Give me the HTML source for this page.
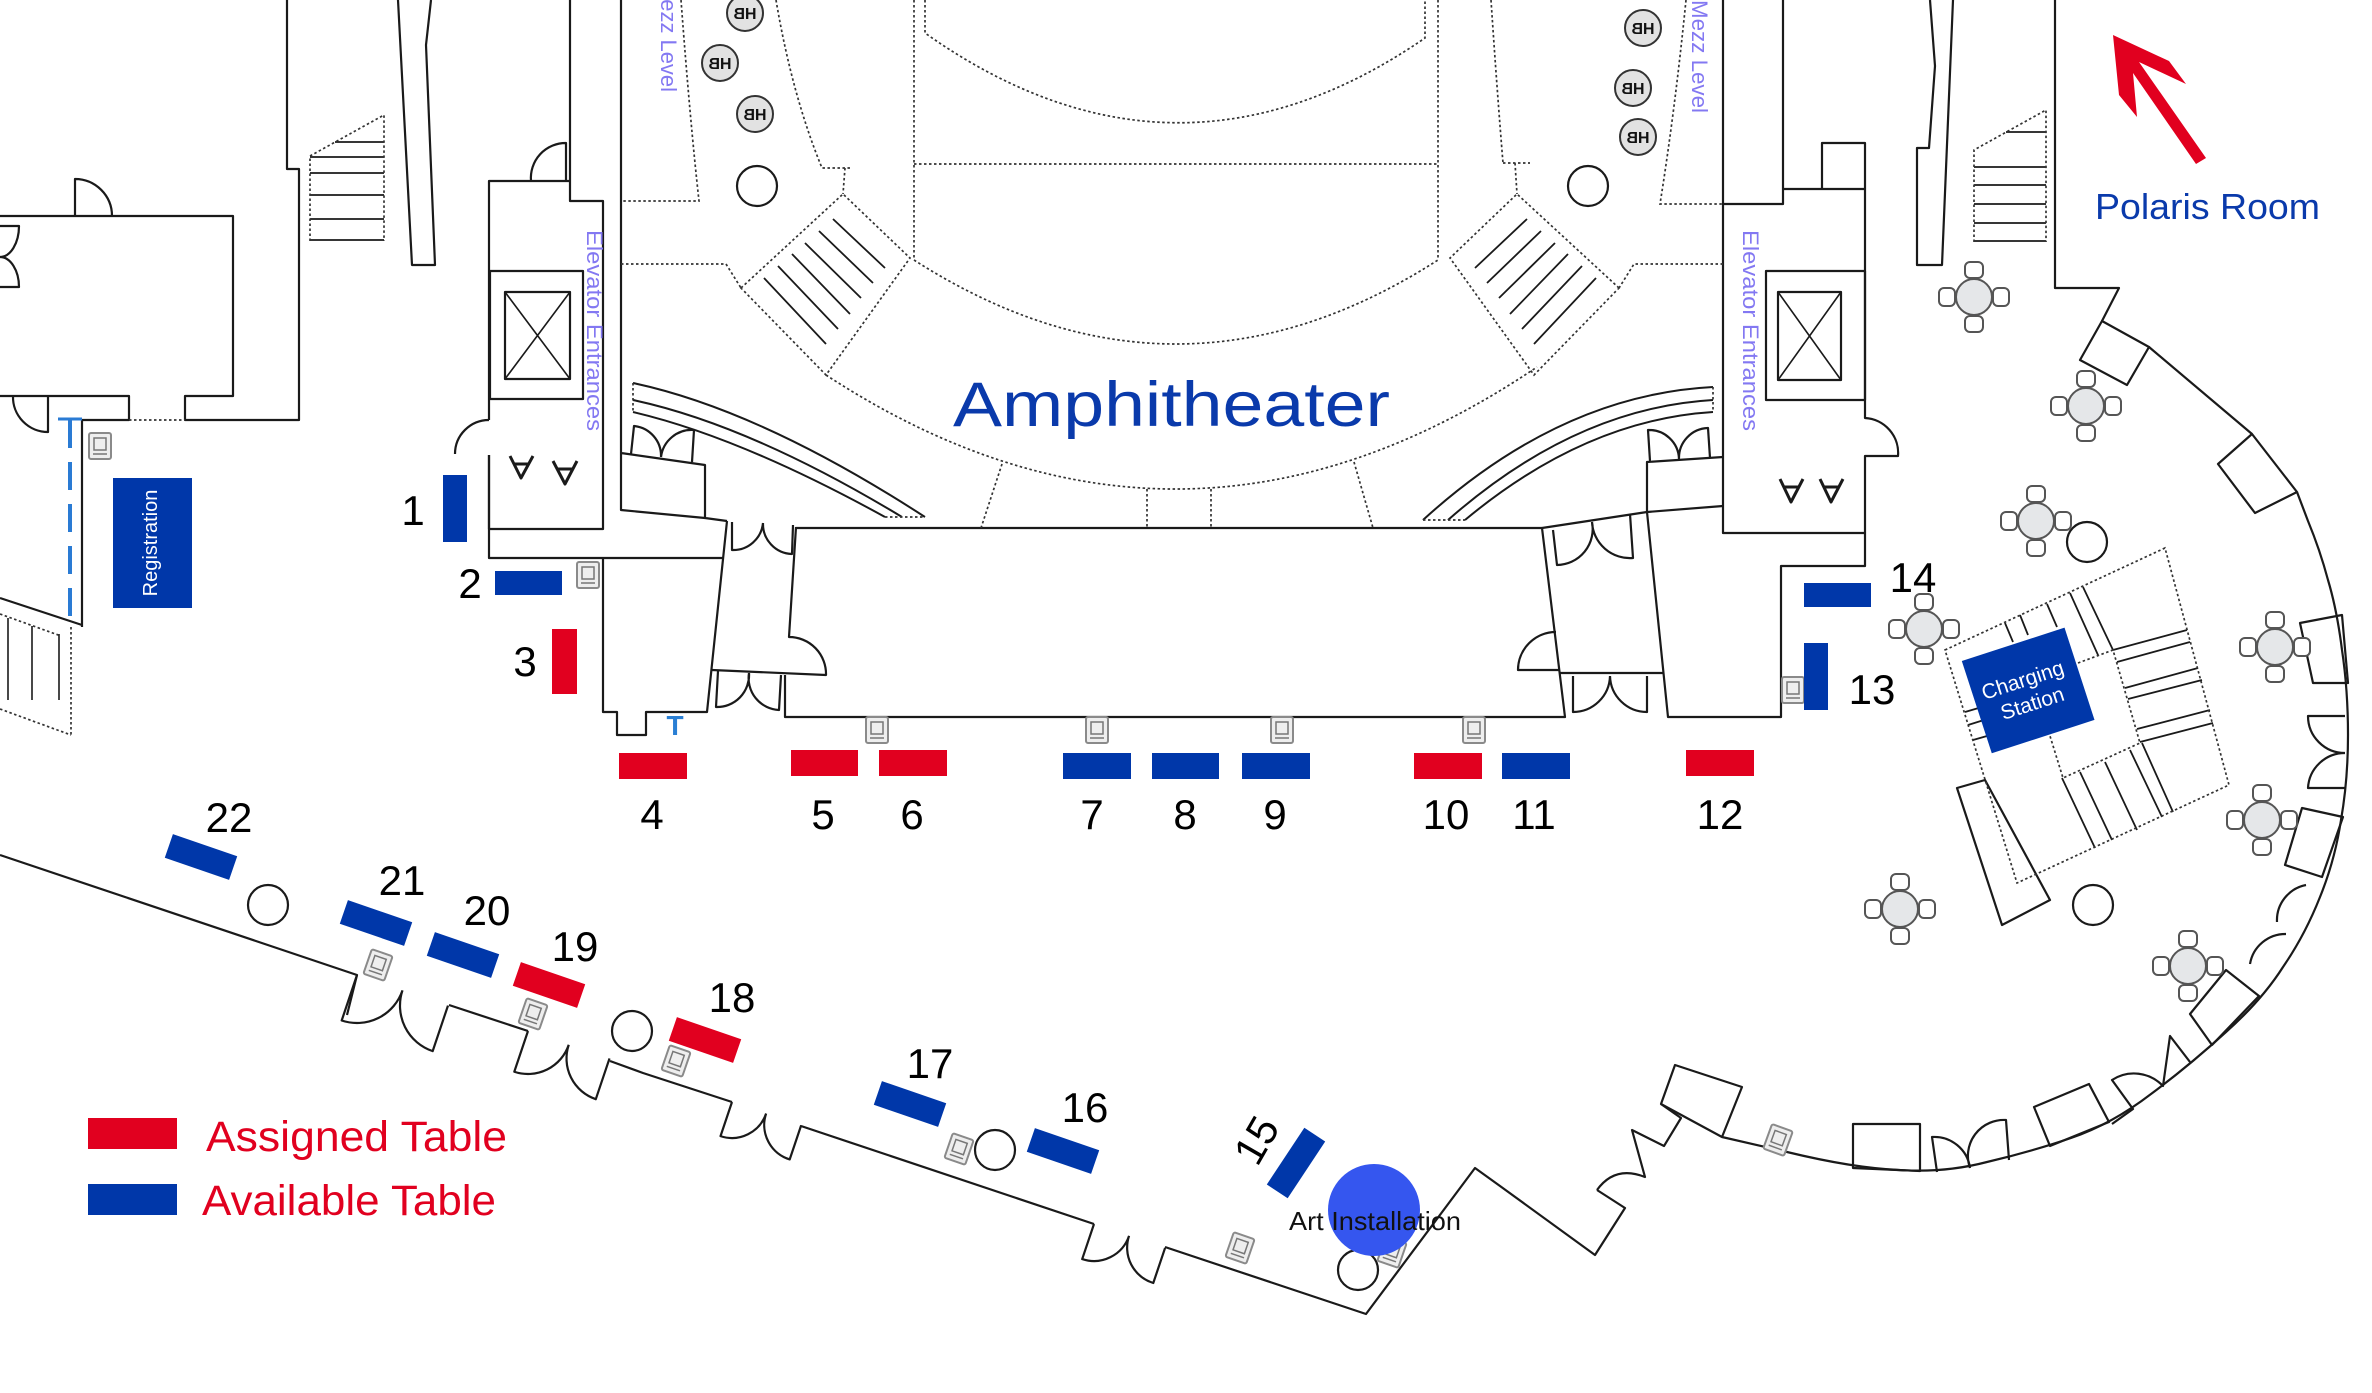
<!DOCTYPE html>
<html><head><meta charset="utf-8"><style>html,body{margin:0;padding:0;background:#fff}svg{display:block}</style></head><body>
<svg width="2372" height="1393" viewBox="0 0 2372 1393" xmlns="http://www.w3.org/2000/svg" font-family="Liberation Sans, Arial, sans-serif">
<defs>
<g id="rt">
<g fill="#fff" stroke="#555" stroke-width="2">
<rect x="-9" y="-35" width="18" height="16" rx="5"/><rect x="-9" y="19" width="18" height="16" rx="5"/>
<rect x="-35" y="-9" width="16" height="18" rx="5"/><rect x="19" y="-9" width="16" height="18" rx="5"/>
<circle r="18" fill="#e5e7e9"/></g></g>
<g id="ki"><rect x="-11" y="-13" width="22" height="26" rx="2" fill="#eee" stroke="#8a8a8a" stroke-width="2"/><rect x="-6" y="-8" width="12" height="12" fill="none" stroke="#777" stroke-width="1.5"/><line x1="-7" y1="8" x2="7" y2="8" stroke="#777" stroke-width="1.5"/></g>
<g id="hb"><circle r="18" fill="#e2e2e2" stroke="#333" stroke-width="2"/><g transform="scale(-1,1)"><text y="6" text-anchor="middle" font-size="16" font-weight="bold" fill="#111">HB</text></g></g>
</defs>
<rect width="2372" height="1393" fill="#fff"/>

<!-- solid walls -->
<g fill="none" stroke="#1a1a1a" stroke-width="2.2" stroke-linejoin="round">
<path d="M287,0 L287,169 L299,169 L299,420 L185,420 L185,396 L233,396 L233,216 L0,216"/>
<path d="M0,396 L129,396 L129,420 L82,420"/>
<path d="M75,216 L75,179 A37,37 0 0 1 112,216"/>
<path d="M48,396 L48,432 A35,35 0 0 1 13,396"/>
<path d="M0,226 L19,226 A19,31 0 0 1 0,257 A19,30 0 0 1 19,287 L0,287"/>
<path d="M82,420 L82,627 M0,598 L82,625"/>
<path d="M8,618 L8,700 M32,626 L32,700 M59,634 L59,700" stroke-width="1.6"/>
<path d="M335,142 L384,142 M310,157 L384,157 M310,173 L384,173 M310,195 L384,195 M310,219 L384,219 M310,240 L384,240" stroke-width="1.8"/>
<path d="M398,0 L412,265 L435,265 L426,45 L431,0"/>
<!-- left elevator -->
<path d="M570,0 L570,201 L603,201 L603,529 L489,529 L489,455"/>
<path d="M489,420 L489,181 L570,181"/>
<path d="M566,181 L566,143 A35,35 0 0 0 531,181"/>
<path d="M489,420 A34,34 0 0 0 455,454"/>
<path d="M489,455 L489,558 L723,558"/>
<rect x="490" y="271" width="93" height="128"/>
<rect x="505" y="292" width="65" height="87"/>
<path d="M505,292 L570,379 M570,292 L505,379" stroke-width="1.6"/>
<path d="M621,0 L621,510 L705,518 L727,521 M621,453 L705,465 L705,518"/>
<path d="M631,454 L634,426 A30,30 0 0 1 661,457 M692,462 L694,430 A31,31 0 0 0 661,457"/>
<path d="M603,558 L603,712 L617,712 L617,735 L646,735 L646,712 L707,712 L727,521"/>
<path d="M796,527 L789,637 A37,37 0 0 1 826,675 L712,670"/>
<path d="M732,522 L732,550 A30,30 0 0 0 763,523 M793,525 L792,554 A30,30 0 0 1 763,523"/>
<path d="M718,671 L716,707 A32,32 0 0 0 749,673 M781,675 L779,710 A32,32 0 0 1 749,673"/>
<path d="M796,528 L1542,528 L1565,717 L785,717 L785,675"/>
<path d="M510,456 L521,478 L533,456 M514,464 L529,464 M553,461 L565,484 L577,461 M557,469 L573,469" stroke-width="3"/>
<!-- right middle -->
<path d="M1542,528 L1647,512 L1723,506"/>
<path d="M1647,512 L1647,462 L1723,457"/>
<path d="M1650,461 L1648,430 A30,30 0 0 1 1679,459 M1710,458 L1708,428 A30,30 0 0 0 1679,459"/>
<path d="M1647,512 L1668,717 L1781,717 L1781,566 L1865,566 L1865,533 L1723,533 L1723,0"/>
<path d="M1560,673 L1663,673"/>
<path d="M1556,632 A38,38 0 0 0 1518,670 L1560,670"/>
<path d="M1553,530 L1557,565 A36,36 0 0 0 1592,522 M1630,514 L1633,558 A38,38 0 0 1 1592,522"/>
<path d="M1573,676 L1573,712 A37,37 0 0 0 1610,676 M1647,676 L1647,712 A37,37 0 0 1 1610,676"/>
<!-- right elevator -->
<path d="M1723,204 L1783,204 L1783,0"/>
<path d="M1783,189 L1865,189 L1865,418 A35,35 0 0 1 1898,456 L1865,456 L1865,533"/>
<path d="M1822,189 L1822,143 L1865,143 L1865,189"/>
<rect x="1766" y="271" width="99" height="129"/>
<rect x="1778" y="292" width="63" height="88"/>
<path d="M1778,292 L1841,380 M1841,292 L1778,380" stroke-width="1.6"/>
<path d="M1780,479 L1791,502 L1803,479 M1784,487 L1799,487 M1820,479 L1831,502 L1843,479 M1824,487 L1839,487" stroke-width="3"/>
<!-- right column, stairs, polaris -->
<path d="M1930,0 L1935,66 L1929,148 L1917,148 L1917,265 L1942,265 L1953,0"/>
<path d="M2006,132 L2046,132 M1974,167 L2046,167 M1974,185 L2046,185 M1974,204 L2046,204 M1974,223 L2046,223 M1974,241 L2046,241" stroke-width="1.8"/>
<path d="M2055,0 L2055,288 L2119,288 L2102,321"/>
<path d="M2080,360 L2102,321 L2149,347 L2127,385 Z"/>
<path d="M2149,347 L2252,434"/>
<path d="M2218,464 L2252,434 L2297,492 L2255,513 Z"/>
<path d="M2297,492 L2308,521 Q2320,550 2328,580 Q2337,610 2342,650 Q2348,690 2348,735 Q2348,780 2341,820 Q2335,860 2320,897 Q2305,935 2283,967 Q2262,1000 2226,1032 Q2190,1065 2151,1094 Q2112,1124 2071,1138 Q2030,1152 1987,1162 Q1945,1173 1899,1170 Q1853,1168 1787,1152 L1722,1137"/>
<path d="M2300,623 L2342,615 L2348,683 L2313,683 Z"/>
<path d="M2285,865 L2302,808 L2343,817 L2322,877 Z"/>
<path d="M2190,1014 L2226,970 L2259,996 L2212,1045 Z"/>
<path d="M2034,1107 L2089,1084 L2109,1122 L2050,1146 Z"/>
<path d="M1853,1124 L1920,1124 L1920,1171 L1853,1168 Z"/>
<path d="M2345,716 L2308,716 A37,37 0 0 0 2345,753 M2345,788 L2308,788 A37,37 0 0 1 2345,753"/>
<path d="M2250,964 A36,36 0 0 1 2286,934 M2277,922 A36,36 0 0 1 2306,885"/>
<path d="M1937,1172 L1932,1137 A36,36 0 0 1 1970,1168 M2009,1160 L2006,1120 A36,36 0 0 0 1970,1168"/>
<path d="M2112,1124 L2133,1109 L2112,1080 A40,40 0 0 1 2163,1086 L2170,1036 L2190,1062"/>
<!-- lower left wall -->
<path d="M0,855 L357,975 L347,1015"/>
<path d="M449,1005 L528,1031"/>
<path d="M610,1061 L643,1073 L732,1102"/>
<path d="M801,1126 L1094,1224"/>
<path d="M1165,1247 L1366,1314 L1475,1168 L1500,1186 L1595,1255 L1625,1208 L1597,1190"/>
<path d="M1597,1190 Q1615,1165 1645,1177 L1632,1130 L1664,1146 L1681,1118 L1661,1104"/>
<path d="M1661,1104 L1675,1065 L1742,1087 L1722,1137 Z"/>
<g transform="translate(357,975) rotate(18.6)"><path d="M0,0 L0,48 A48,48 0 0 0 48,0 M96,0 L96,48 A48,48 0 0 1 48,0"/></g>
<g transform="translate(528,1031) rotate(18.6)"><path d="M0,0 L0,43 A43,43 0 0 0 43,0 M86,0 L86,43 A43,43 0 0 1 43,0"/></g>
<g transform="translate(732,1102) rotate(18.6)"><path d="M0,0 L0,36 A36,36 0 0 0 36,0 M73,0 L73,36 A36,36 0 0 1 36,0"/></g>
<g transform="translate(1094,1224) rotate(18.6)"><path d="M0,0 L0,37 A37,37 0 0 0 37,0 M75,0 L75,37 A37,37 0 0 1 37,0"/></g>
<!-- railings -->
<path d="M633,383 Q760,410 925,517 M633,400 Q750,425 902,517 M633,412 Q740,437 885,517" stroke-width="2"/>
<path d="M1713,387 Q1560,395 1423,520 M1713,400 Q1575,408 1448,520 M1713,412 Q1585,420 1465,520" stroke-width="2"/>
<!-- stair hatches -->
<path d="M833,219 L885,268 M819,231 L873,283 M805,243 L861,298 M792,254 L850,314 M778,266 L838,329 M764,278 L826,344" stroke-width="1.8"/>
<path d="M1527,219 L1475,268 M1541,231 L1487,283 M1555,243 L1499,298 M1568,254 L1510,314 M1582,266 L1522,329 M1596,278 L1534,344" stroke-width="1.8"/>
<!-- charging area -->
<path d="M2005,623 L2013,642 M2020,615 L2028,635 M2047,604 L2057,627 M2070,593 L2098,655 M2083,587 L2113,650" stroke-width="1.8"/>
<path d="M2113,650 L2187,630 M2117,662 L2190,642 M2125,688 L2198,668 M2128,699 L2202,680 M2137,729 L2210,710 M2140,742 L2213,723" stroke-width="1.8"/>
<path d="M2062,778 L2095,848 M2080,772 L2112,840 M2105,762 L2137,830 M2130,750 L2162,817 M2142,743 L2173,812" stroke-width="1.8"/>
<path d="M1965,712 L1982,707 M1968,725 L1984,720 M1973,740 L1987,736" stroke-width="1.8"/>
<path d="M1957,788 L1985,780 L2050,900 L2002,925 Z"/>
</g>

<!-- dotted -->
<g fill="none" stroke="#333" stroke-width="1.7" stroke-dasharray="2.5 2.5">
<path d="M129,420 L185,420"/>
<path d="M310,241 L310,156 L384,115 L384,241"/>
<path d="M0,614 L61,636 M71,627 L71,735 M0,709 L71,735"/>
<path d="M681,0 Q690,120 699,201 L621,201"/>
<path d="M621,264 L726,264 L741,288"/>
<path d="M776,0 Q792,95 822,168 L852,168 M845,168 L843,194"/>
<path d="M741,288 L843,194 L910,258 L826,375 Z"/>
<path d="M1619,288 L1517,194 L1450,258 L1534,375 Z"/>
<path d="M1503,163 L1530,163 M1515,163 L1517,194"/>
<path d="M1723,264 L1634,264 L1619,288"/>
<path d="M1686,0 Q1675,110 1660,204 L1723,204"/>
<path d="M1491,0 Q1497,90 1503,163"/>
<path d="M914,0 L914,260 M1438,0 L1438,260 M914,164 L1438,164"/>
<path d="M925,0 L925,33 Q1175,210 1425,38 L1425,0"/>
<path d="M914,260 Q1176,428 1438,260"/>
<path d="M826,375 Q1181,607 1537,367"/>
<path d="M1002,464 L981,528 M1354,462 L1373,528 M1147,489 L1147,528 M1211,489 L1211,528"/>
<path d="M633,383 L633,412 M885,517 L925,517 M1713,387 L1713,412 M1423,520 L1465,520"/>
<path d="M1974,242 L1974,150 L2046,110 L2046,242"/>
<path d="M1945,650 L2165,548 L2229,785 L2017,883 Z"/>
<path d="M2078,663 L2113,650 L2140,743 L2063,778 L2050,736"/>
</g>

<!-- blue dashed line -->
<path d="M70,420 L70,623" stroke="#2a7bd4" stroke-width="4" stroke-dasharray="28 14" fill="none"/>
<path d="M58,419 L82,419" stroke="#2a7bd4" stroke-width="3"/>

<!-- circles -->
<g fill="none" stroke="#1a1a1a" stroke-width="2.2">
<circle cx="757" cy="186" r="20"/><circle cx="1588" cy="186" r="20"/>
<circle cx="268" cy="905" r="20"/><circle cx="632" cy="1031" r="20"/>
<circle cx="995" cy="1150" r="20"/><circle cx="1358" cy="1270" r="20"/>
<circle cx="2087" cy="542" r="20"/><circle cx="2093" cy="905" r="20"/>
</g>

<use href="#hb" x="745" y="13"/><use href="#hb" x="720" y="63"/><use href="#hb" x="755" y="114"/>
<use href="#hb" x="1643" y="28"/><use href="#hb" x="1633" y="88"/><use href="#hb" x="1638" y="137"/>

<use href="#rt" x="1974" y="297"/><use href="#rt" x="2086" y="406"/><use href="#rt" x="2036" y="521"/>
<use href="#rt" x="1924" y="629"/><use href="#rt" x="2275" y="647"/><use href="#rt" x="2262" y="820"/>
<use href="#rt" x="1900" y="909"/><use href="#rt" x="2188" y="966"/>

<use href="#ki" x="877" y="730"/><use href="#ki" x="1097" y="730"/><use href="#ki" x="1282" y="730"/>
<use href="#ki" x="1474" y="730"/><use href="#ki" x="588" y="575"/><use href="#ki" x="1793" y="690"/>
<use href="#ki" x="100" y="446"/>
<g transform="translate(378,965) rotate(19)"><use href="#ki"/></g>
<g transform="translate(533,1014) rotate(19)"><use href="#ki"/></g>
<g transform="translate(676,1061) rotate(19)"><use href="#ki"/></g>
<g transform="translate(959,1149) rotate(19)"><use href="#ki"/></g>
<g transform="translate(1240,1248) rotate(19)"><use href="#ki"/></g>
<g transform="translate(1392,1252) rotate(19)"><use href="#ki"/></g>
<g transform="translate(1778,1140) rotate(20)"><use href="#ki"/></g>

<!-- vertical labels -->
<g fill="#8378f2" font-size="22">
<text transform="translate(587,230) rotate(90)" textLength="201" lengthAdjust="spacingAndGlyphs">Elevator Entrances</text>
<text transform="translate(1743,230) rotate(90)" textLength="201" lengthAdjust="spacingAndGlyphs">Elevator Entrances</text>
<text transform="translate(661,-19) rotate(90)" textLength="111" lengthAdjust="spacingAndGlyphs">Mezz Level</text>
<text transform="translate(1692,0) rotate(90)" textLength="113" lengthAdjust="spacingAndGlyphs">Mezz Level</text>
</g>
<text x="675" y="735" text-anchor="middle" font-size="28" font-weight="bold" fill="#2a7fd4">T</text>

<!-- Registration -->
<rect x="113" y="478" width="79" height="130" fill="#0037a9"/>
<text transform="translate(157,543) rotate(-90)" text-anchor="middle" font-size="20" fill="#fff">Registration</text>

<!-- Charging station -->
<g transform="translate(2028,690) rotate(-18)">
<rect x="-54" y="-48" width="108" height="97" fill="#0037a9"/>
<text x="-2" y="-4" text-anchor="middle" font-size="21" fill="#fff">Charging</text>
<text x="0" y="21" text-anchor="middle" font-size="21" fill="#fff">Station</text>
</g>

<!-- straight tables -->
<g>
<rect x="443" y="475" width="24" height="67" fill="#0037a9"/>
<rect x="495" y="571" width="67" height="24" fill="#0037a9"/>
<rect x="552" y="629" width="25" height="65" fill="#e1001f"/>
<rect x="619" y="753" width="68" height="26" fill="#e1001f"/>
<rect x="791" y="750" width="67" height="26" fill="#e1001f"/>
<rect x="879" y="750" width="68" height="26" fill="#e1001f"/>
<rect x="1063" y="753" width="68" height="26" fill="#0037a9"/>
<rect x="1152" y="753" width="67" height="26" fill="#0037a9"/>
<rect x="1242" y="753" width="68" height="26" fill="#0037a9"/>
<rect x="1414" y="753" width="68" height="26" fill="#e1001f"/>
<rect x="1502" y="753" width="68" height="26" fill="#0037a9"/>
<rect x="1686" y="750" width="68" height="26" fill="#e1001f"/>
<rect x="1804" y="643" width="24" height="67" fill="#0037a9"/>
<rect x="1804" y="583" width="67" height="24" fill="#0037a9"/>
</g>
<!-- rotated tables -->
<g transform="translate(201,857) rotate(19)"><rect x="-34" y="-12.5" width="68" height="25" fill="#0037a9"/></g>
<g transform="translate(376,923) rotate(19)"><rect x="-34" y="-12.5" width="68" height="25" fill="#0037a9"/></g>
<g transform="translate(463,955) rotate(19)"><rect x="-34" y="-12.5" width="68" height="25" fill="#0037a9"/></g>
<g transform="translate(549,985) rotate(19)"><rect x="-34" y="-12.5" width="68" height="25" fill="#e1001f"/></g>
<g transform="translate(705,1040) rotate(19)"><rect x="-34" y="-12.5" width="68" height="25" fill="#e1001f"/></g>
<g transform="translate(910,1104) rotate(19)"><rect x="-34" y="-12.5" width="68" height="25" fill="#0037a9"/></g>
<g transform="translate(1063,1151) rotate(19)"><rect x="-34" y="-12.5" width="68" height="25" fill="#0037a9"/></g>
<g transform="translate(1296,1163) rotate(-56.5)"><rect x="-34" y="-12.5" width="68" height="25" fill="#0037a9"/></g>

<!-- numbers -->
<g font-size="42" fill="#000" text-anchor="middle">
<text x="413" y="525">1</text><text x="470" y="598">2</text><text x="525" y="676">3</text>
<text x="652" y="829">4</text><text x="823" y="829">5</text><text x="912" y="829">6</text>
<text x="1092" y="829">7</text><text x="1185" y="829">8</text><text x="1275" y="829">9</text>
<text x="1446" y="829">10</text><text x="1534" y="829">11</text><text x="1720" y="829">12</text>
<text x="1872" y="704">13</text><text x="1913" y="592">14</text>
<text x="229" y="832">22</text><text x="402" y="895">21</text><text x="487" y="925">20</text>
<text x="575" y="961">19</text><text x="732" y="1012">18</text><text x="930" y="1078">17</text>
<text x="1085" y="1122">16</text>
<text transform="translate(1256,1140) rotate(-60)" y="15">15</text>
</g>

<!-- Amphitheater -->
<text x="953" y="426" font-size="63" fill="#0a3aab" textLength="437" lengthAdjust="spacingAndGlyphs">Amphitheater</text>

<!-- Polaris -->
<polygon points="2113,35 2169,61 2186,84 2139,62 2206,158 2196,164 2133,73 2137,117 2119,95" fill="#e1001f"/>
<text x="2095" y="219" font-size="36" fill="#0a3aab" textLength="225" lengthAdjust="spacingAndGlyphs">Polaris Room</text>

<!-- Art installation -->
<circle cx="1374" cy="1210" r="46" fill="#3556ef"/>
<text x="1289" y="1230" font-size="26" fill="#111" textLength="172" lengthAdjust="spacingAndGlyphs">Art Installation</text>

<!-- legend -->
<rect x="88" y="1118" width="89" height="31" fill="#e1001f"/>
<rect x="88" y="1184" width="89" height="31" fill="#0037a9"/>
<text x="206" y="1151" font-size="43" fill="#e1001f" textLength="301" lengthAdjust="spacingAndGlyphs">Assigned Table</text>
<text x="202" y="1215" font-size="43" fill="#e1001f" textLength="294" lengthAdjust="spacingAndGlyphs">Available Table</text>
</svg>
</body></html>
